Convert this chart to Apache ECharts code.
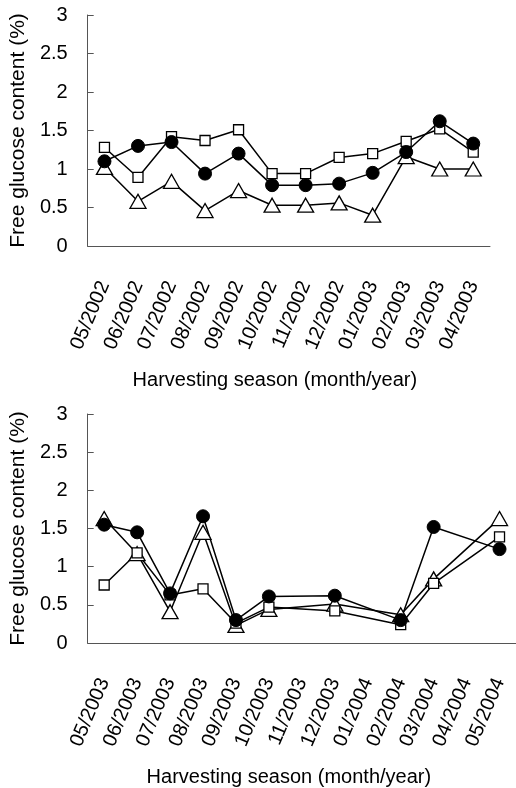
<!DOCTYPE html>
<html>
<head>
<meta charset="utf-8">
<script src="https://cdn.jsdelivr.net/npm/echarts@6/dist/echarts.min.js"></script>
<style>
  html, body { margin: 0; padding: 0; background: #fff; }
  #chart { width: 516px; height: 788px; }
</style>
</head>
<body>
<div id="chart"></div>
<script>
// top panel: 05/2002 - 04/2003
var monthsA = ['05/2002', '06/2002', '07/2002', '08/2002', '09/2002', '10/2002', '11/2002', '12/2002', '01/2003', '02/2003', '03/2003', '04/2003'];
var squaresA = [1.28, 0.89, 1.42, 1.37, 1.51, 0.94, 0.94, 1.15, 1.20, 1.36, 1.52, 1.22];
var circlesA = [1.10, 1.30, 1.35, 0.94, 1.20, 0.79, 0.79, 0.81, 0.95, 1.22, 1.62, 1.33];
var trianglesA = [1.02, 0.58, 0.84, 0.46, 0.72, 0.53, 0.53, 0.56, 0.40, 1.16, 1.00, 1.00];

// bottom panel: 05/2003 - 05/2004 (no sample in 11/2003, 01/2004, 04/2004)
var monthsB = ['05/2003', '06/2003', '07/2003', '08/2003', '09/2003', '10/2003', '11/2003', '12/2003', '01/2004', '02/2004', '03/2004', '04/2004', '05/2004'];
var squaresB = [0.76, 1.18, 0.63, 0.71, 0.26, 0.47, null, 0.42, null, 0.24, 0.78, null, 1.39];
var circlesB = [1.55, 1.45, 0.65, 1.66, 0.30, 0.61, null, 0.62, null, 0.30, 1.52, null, 1.23];
var trianglesB = [1.63, 1.17, 0.41, 1.45, 0.23, 0.44, null, 0.51, null, 0.37, 0.84, null, 1.63];

var yTicks = { min: 0, max: 3, interval: 0.5 };
var font = 'Liberation Sans, Arial, sans-serif';

function xAxisFor (idx, data, shift) {
  return {
    type: 'category',
    gridIndex: idx,
    data: data,
    boundaryGap: true,
    name: 'Harvesting season (month/year)',
    nameLocation: 'middle',
    nameGap: 124,
    nameTextStyle: { fontFamily: font, fontSize: 20, color: '#000', padding: [0, shift, 0, 0] },
    axisLine: { lineStyle: { color: '#555', width: 1 } },
    axisTick: { inside: true, length: 6, lineStyle: { color: '#555' } },
    axisLabel: { interval: 0, rotate: 67, margin: 36, fontFamily: font, fontSize: 20, color: '#000' },
    splitLine: { show: false }
  }
}

function yAxisFor (idx) {
  return {
    type: 'value',
    gridIndex: idx,
    min: yTicks.min,
    max: yTicks.max,
    interval: yTicks.interval,
    name: 'Free glucose content (%)',
    nameLocation: 'middle',
    nameGap: 46,
    nameTextStyle: { fontFamily: font, fontSize: 21, color: '#000' },
    axisLine: { show: true, lineStyle: { color: '#555', width: 1 } },
    axisTick: { show: true, inside: true, length: 6, lineStyle: { color: '#555' } },
    axisLabel: { margin: 20, fontFamily: font, fontSize: 20, color: '#000' },
    splitLine: { show: false }
  }
}

function seriesFor (idx, values, kind) {
  var s = {
    type: 'line',
    xAxisIndex: idx,
    yAxisIndex: idx,
    data: values,
    connectNulls: true,
    lineStyle: { color: '#000', width: 1.5 },
    emphasis: { disabled: true }
  };
  if (kind === 'square') {
    s.symbol = 'rect';
    s.symbolSize = 10;
    s.itemStyle = { color: '#fff', borderColor: '#000', borderWidth: 1.3 };
  } else if (kind === 'triangle') {
    s.symbol = 'triangle';
    s.symbolSize = [16, 14];
    s.itemStyle = { color: '#fff', borderColor: '#000', borderWidth: 1.3 };
  } else {
    s.symbol = 'circle';
    s.symbolSize = 13;
    s.itemStyle = { color: '#000', borderColor: '#000', borderWidth: 1 };
  }
  return s;
}

var chart = echarts.init(document.getElementById('chart'));
chart.setOption({
  backgroundColor: '#fff',
  animation: false,
  grid: [
    { left: 86, top: 15, width: 404, height: 231 },
    { left: 81, top: 414, width: 442, height: 231 }
  ],
  xAxis: [xAxisFor(0, monthsA, 28), xAxisFor(1, monthsB, 26)],
  yAxis: [yAxisFor(0), yAxisFor(1)],
  series: [
    seriesFor(0, trianglesA, 'triangle'),
    seriesFor(0, squaresA, 'square'),
    seriesFor(0, circlesA, 'circle'),
    seriesFor(1, trianglesB, 'triangle'),
    seriesFor(1, squaresB, 'square'),
    seriesFor(1, circlesB, 'circle')
  ]
});
</script>
</body>
</html>
